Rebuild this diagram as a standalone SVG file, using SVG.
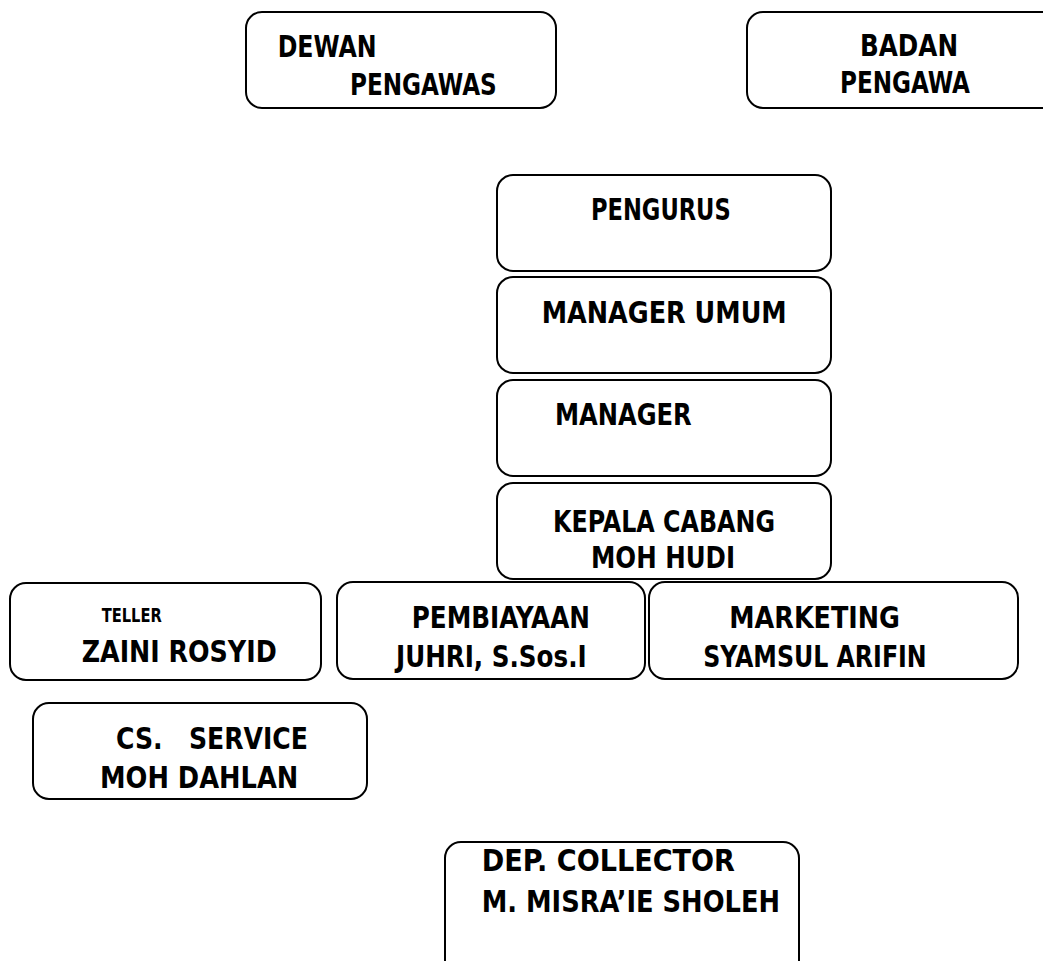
<svg xmlns="http://www.w3.org/2000/svg" width="1043" height="961" viewBox="0 0 1043 961">
<style>
.box{fill:#fff;stroke:#000;stroke-width:2}
.t{font-family:"DejaVu Sans Condensed","DejaVu Sans",sans-serif;font-weight:bold;font-stretch:condensed;font-size:31px;fill:#000;white-space:pre}
.s{font-size:20px}
</style>
<rect width="1043" height="961" fill="#fff"/>
<g id="connectors"></g>
<g id="dewan-pengawas">
<rect class="box" x="246" y="12" width="310" height="96" rx="16"/>
<text class="t" x="277.7" y="57" textLength="99" lengthAdjust="spacingAndGlyphs">DEWAN</text>
<text class="t" x="350" y="95" textLength="146.7" lengthAdjust="spacingAndGlyphs">PENGAWAS</text>
</g>
<g id="badan-pengawa">
<rect class="box" x="747" y="12" width="320" height="96" rx="16"/>
<text class="t" x="860" y="56" textLength="98" lengthAdjust="spacingAndGlyphs">BADAN</text>
<text class="t" x="840" y="93" textLength="130" lengthAdjust="spacingAndGlyphs">PENGAWA</text>
</g>
<g id="pengurus">
<rect class="box" x="497" y="175" width="334" height="96" rx="16"/>
<text class="t" x="591" y="220" textLength="139.7" lengthAdjust="spacingAndGlyphs">PENGURUS</text>
</g>
<g id="manager-umum">
<rect class="box" x="497" y="277" width="334" height="96" rx="16"/>
<text class="t" x="541.7" y="322.7" textLength="245" lengthAdjust="spacingAndGlyphs">MANAGER UMUM</text>
</g>
<g id="manager">
<rect class="box" x="497" y="380" width="334" height="96" rx="16"/>
<text class="t" x="555" y="425" textLength="136.7" lengthAdjust="spacingAndGlyphs">MANAGER</text>
</g>
<g id="kepala-cabang">
<rect class="box" x="497" y="483" width="334" height="96" rx="16"/>
<text class="t" x="553" y="531.7" textLength="222" lengthAdjust="spacingAndGlyphs">KEPALA CABANG</text>
<text class="t" x="591" y="568" textLength="144" lengthAdjust="spacingAndGlyphs">MOH HUDI</text>
</g>
<g id="teller">
<rect class="box" x="10" y="583" width="311" height="97" rx="16"/>
<text class="t s" x="101.7" y="621.7" textLength="60" lengthAdjust="spacingAndGlyphs">TELLER</text>
<text class="t" x="81.7" y="661.7" textLength="195" lengthAdjust="spacingAndGlyphs">ZAINI ROSYID</text>
</g>
<g id="pembiayaan">
<rect class="box" x="337" y="582" width="308" height="97" rx="16"/>
<text class="t" x="411.7" y="628" textLength="178.3" lengthAdjust="spacingAndGlyphs">PEMBIAYAAN</text>
<text class="t" x="396" y="666.7" textLength="190.7" lengthAdjust="spacingAndGlyphs">JUHRI, S.Sos.I</text>
</g>
<g id="marketing">
<rect class="box" x="649" y="582" width="369" height="97" rx="16"/>
<text class="t" x="729.3" y="628" textLength="170.7" lengthAdjust="spacingAndGlyphs">MARKETING</text>
<text class="t" x="703.3" y="666.7" textLength="223.4" lengthAdjust="spacingAndGlyphs">SYAMSUL ARIFIN</text>
</g>
<g id="cs-service">
<rect class="box" x="33" y="703" width="334" height="96" rx="16"/>
<text class="t" x="116" y="749" textLength="192" lengthAdjust="spacingAndGlyphs">CS.   SERVICE</text>
<text class="t" x="100" y="788" textLength="198.3" lengthAdjust="spacingAndGlyphs">MOH DAHLAN</text>
</g>
<g id="dep-collector">
<rect class="box" x="445" y="842" width="354" height="135" rx="16"/>
<text class="t" x="481.7" y="870.7" textLength="253.3" lengthAdjust="spacingAndGlyphs">DEP. COLLECTOR</text>
<text class="t" x="481.7" y="911.7" textLength="298.3" lengthAdjust="spacingAndGlyphs">M. MISRA’IE SHOLEH</text>
</g>
</svg>
